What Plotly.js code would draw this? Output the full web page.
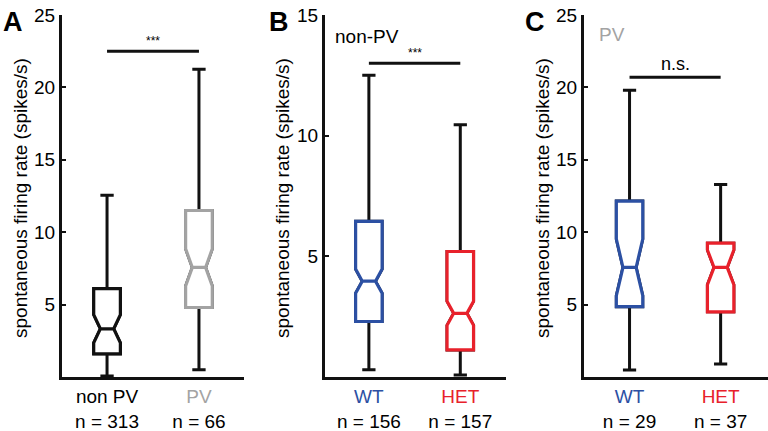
<!DOCTYPE html>
<html><head><meta charset="utf-8">
<script src="https://cdn.plot.ly/plotly-3.0.1.min.js"></script>
<style>html,body{margin:0;padding:0;background:#fff}#chart{width:768px;height:431px}</style>
</head><body><div id="chart"></div>
<script>
// ---- Panel A: non PV vs PV ----
const catsA = ['non PV', 'PV'];
const nA = [313, 66];
const lowA = [0.07, 0.5];
const q1A = [1.6, 4.8];
const medA = [3.33, 7.57];
const q3A = [6.1, 11.5];
const highA = [12.55, 21.25];
const notchA = [0.97, 1.28];

// ---- Panel B: non-PV, WT vs HET ----
const catsB = ['WT', 'HET'];
const nB = [156, 157];
const lowB = [0.3, 0.08];
const q1B = [2.3, 1.12];
const medB = [3.97, 2.64];
const q3B = [6.45, 5.2];
const highB = [12.5, 10.45];
const notchB = [0.5, 0.5];

// ---- Panel C: PV, WT vs HET ----
const catsC = ['WT', 'HET'];
const nC = [29, 37];
const lowC = [0.49, 0.9];
const q1C = [4.86, 4.5];
const medC = [7.57, 7.57];
const q3C = [12.15, 9.24];
const highC = [19.8, 13.3];
const notchC = [1.95, 1.2];

// significance bars (level in data units) and labels
const sigLevel = [22.5, 13.0, 20.7];
const sigText = ['***', '***', 'n.s.'];
const yMax = [25, 15, 25];
const yTicks = [[5, 10, 15, 20, 25], [5, 10, 15], [5, 10, 15, 20, 25]];
const yTitle = 'spontaneous firing rate (spikes/s)';

const BLACK = '#111111', GRAY = '#a3a3a3', BLUE = '#2c50a3', RED = '#e8212b';
const colsA = [BLACK, GRAY], colsB = [BLUE, RED], colsC = [BLUE, RED];

const panels = [
  {cats: catsA, n: nA, low: lowA, q1: q1A, med: medA, q3: q3A, high: highA, notch: notchA, cols: colsA, xa: 'x', ya: 'y'},
  {cats: catsB, n: nB, low: lowB, q1: q1B, med: medB, q3: q3B, high: highB, notch: notchB, cols: colsB, xa: 'x2', ya: 'y2'},
  {cats: catsC, n: nC, low: lowC, q1: q1C, med: medC, q3: q3C, high: highC, notch: notchC, cols: colsC, xa: 'x3', ya: 'y3'}
];

const traces = [];
panels.forEach((p, pi) => {
  p.cats.forEach((c, i) => {
    const common = {
      type: 'box', x: [i], q1: [p.q1[i]], median: [p.med[i]], q3: [p.q3[i]],
      notched: true, notchspan: [p.notch[i]], notchwidth: 0.25, width: 0.29,
      boxpoints: false, fillcolor: '#ffffff', hoverinfo: 'skip', showlegend: false,
      xaxis: p.xa, yaxis: p.ya
    };
    // black whiskers
    traces.push(Object.assign({}, common, {
      lowerfence: [p.low[i]], upperfence: [p.high[i]], whiskerwidth: 0.5,
      line: {color: BLACK, width: 3}
    }));
    // coloured notched box on top
    traces.push(Object.assign({}, common, {
      lowerfence: [p.q1[i]], upperfence: [p.q3[i]], whiskerwidth: 0,
      line: {color: p.cols[i], width: 3.2}
    }));
  });
  // significance bar
  traces.push({
    type: 'scatter', mode: 'lines', x: [0, 1], y: [sigLevel[pi], sigLevel[pi]],
    line: {color: BLACK, width: 3}, hoverinfo: 'skip', showlegend: false,
    xaxis: p.xa, yaxis: p.ya
  });
});

const FONT = 'Liberation Sans, Arial, Helvetica, sans-serif';
function tickText(p) {
  return p.cats.map((c, i) => '<span style="color:' + (p.cols[i] === BLACK ? '#000' : p.cols[i]) + '">' + c + '</span><br>n = ' + p.n[i]);
}
const xDomains = [[62/768, 244/768], [325/768, 506/768], [584/768, 1]];
const xRanges = [[-0.49, 1.49], [-0.48, 1.5], [-0.5, 1.52]];
const yDom = [54/431, 416/431];
const titleX = [21, 283, 543];

const layout = {
  width: 768, height: 431, margin: {l: 0, r: 0, t: 0, b: 0},
  paper_bgcolor: '#fff', plot_bgcolor: '#fff', boxmode: 'overlay', showlegend: false,
  font: {family: FONT, color: '#000', size: 18},
  annotations: []
};
panels.forEach((p, pi) => {
  const sx = pi === 0 ? '' : String(pi + 1);
  layout['xaxis' + sx] = {
    domain: xDomains[pi], range: xRanges[pi], anchor: 'y' + sx,
    showgrid: false, zeroline: false, showline: true, linewidth: 3, linecolor: BLACK,
    tickmode: 'array', tickvals: [0, 1], ticktext: tickText(p), ticks: '',
    tickfont: {size: 19, family: FONT, color: '#000'}, fixedrange: true
  };
  layout['yaxis' + sx] = {
    domain: yDom, range: [0, yMax[pi]], anchor: 'x' + sx,
    showgrid: false, zeroline: false, showline: true, linewidth: 3, linecolor: BLACK,
    tickmode: 'array', tickvals: yTicks[pi], ticks: 'inside', ticklen: 4, tickwidth: 2, tickcolor: BLACK,
    tickfont: {size: 19, family: FONT, color: '#000'},
    fixedrange: true
  };
  layout.annotations.push({
    xref: 'paper', yref: 'paper', x: titleX[pi] / 768, y: 1 - 198/431, xanchor: 'center', yanchor: 'middle',
    text: yTitle, textangle: -90, showarrow: false,
    font: {size: 19, family: FONT, color: '#000'}
  });
  layout.annotations.push({
    xref: 'x' + sx, yref: 'y' + sx, x: 0.5, y: sigLevel[pi], yanchor: 'bottom', yshift: 1,
    text: sigText[pi], showarrow: false,
    font: {size: pi === 2 ? 18 : 12, family: FONT, color: '#000'}
  });
});
// panel letters
[['A', 13], ['B', 279], ['C', 535]].forEach(([t, x]) => layout.annotations.push({
  xref: 'paper', yref: 'paper', x: x/768, y: 1 - 22/431, xanchor: 'center', yanchor: 'middle',
  text: '<b>' + t + '</b>', showarrow: false, font: {size: 27, family: FONT, color: '#000'}
}));
layout.annotations.push({
  xref: 'paper', yref: 'paper', x: 333/768, y: 1 - 36/431, xanchor: 'left', yanchor: 'middle',
  text: 'non-PV', showarrow: false, font: {size: 19, family: FONT, color: '#000'}
});
layout.annotations.push({
  xref: 'paper', yref: 'paper', x: 597/768, y: 1 - 34/431, xanchor: 'left', yanchor: 'middle',
  text: 'PV', showarrow: false, font: {size: 19, family: FONT, color: GRAY}
});

Plotly.newPlot('chart', traces, layout, {staticPlot: true, displayModeBar: false});
</script></body></html>
